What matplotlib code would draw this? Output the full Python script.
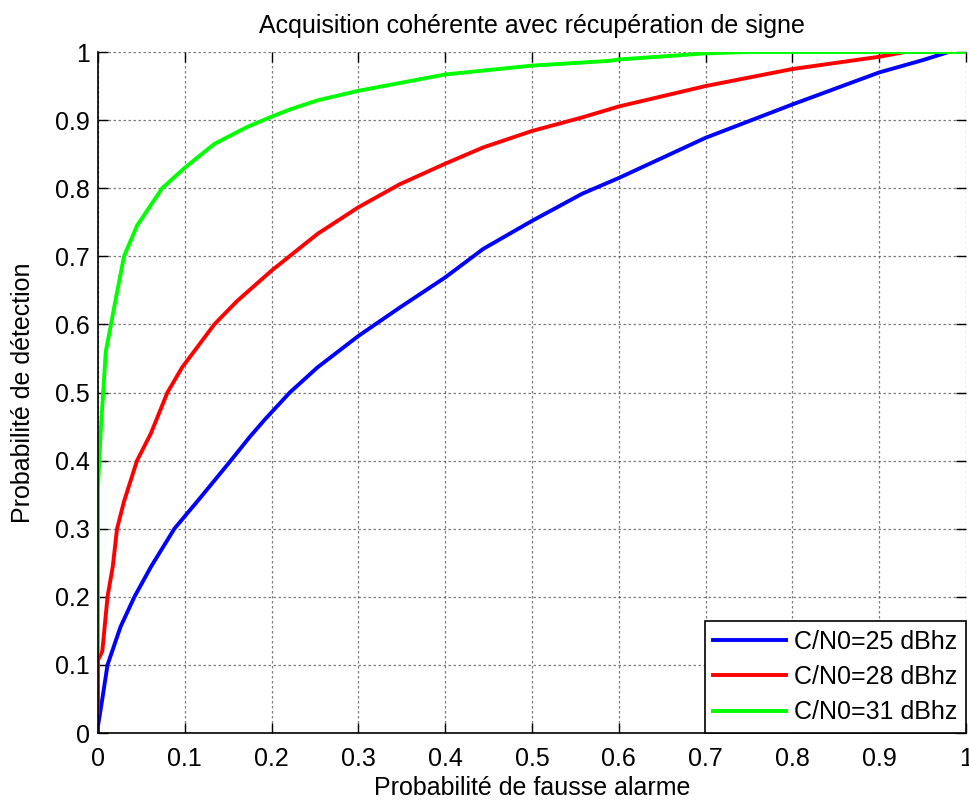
import matplotlib
matplotlib.use("Agg")
from matplotlib import pyplot as plt

plt.rcParams['font.family'] = ['Liberation Sans', 'DejaVu Sans']

# courbes ROC (Pfa, Pd)
pfa_25 = [0, 0, 0.005, 0.011, 0.026, 0.042, 0.061, 0.088, 0.115, 0.153, 0.175, 0.192,
          0.221, 0.253, 0.30, 0.348, 0.40, 0.444, 0.50, 0.558, 0.60, 0.70, 0.80,
          0.90, 0.95, 0.98, 1.0]
pd_25 = [0, 0.01, 0.05, 0.10, 0.156, 0.20, 0.244, 0.30, 0.341, 0.40, 0.435, 0.46,
         0.50, 0.537, 0.583, 0.625, 0.669, 0.711, 0.752, 0.792, 0.815, 0.874, 0.923,
         0.970, 0.988, 1.0, 1.0]

pfa_28 = [0, 0, 0.005, 0.011, 0.017, 0.022, 0.03, 0.045, 0.061, 0.08, 0.097, 0.134, 0.16,
          0.176, 0.2, 0.253, 0.3, 0.348, 0.4, 0.444, 0.5, 0.558, 0.6, 0.7, 0.8,
          0.9, 0.93, 1.0]
pd_28 = [0.03, 0.107, 0.12, 0.2, 0.244, 0.3, 0.34, 0.4, 0.44, 0.5, 0.537, 0.6, 0.634,
         0.652, 0.679, 0.733, 0.772, 0.806, 0.836, 0.860, 0.884, 0.904, 0.92, 0.95, 0.975,
         0.993, 1.0, 1.0]

pfa_31 = [0, 0, 0.003, 0.006, 0.009, 0.015, 0.02, 0.03, 0.045, 0.074, 0.1, 0.134, 0.172,
          0.2, 0.222, 0.253, 0.3, 0.4, 0.5, 0.589, 0.6, 0.7, 0.75, 1.0]
pd_31 = [0.12, 0.36, 0.44, 0.5, 0.56, 0.6, 0.634, 0.7, 0.745, 0.8, 0.83, 0.865, 0.89,
         0.905, 0.916, 0.929, 0.943, 0.967, 0.980, 0.987, 0.989, 0.998, 1.0, 1.0]

labels = ["C/N0=25 dBhz", "C/N0=28 dBhz", "C/N0=31 dBhz"]
ticks = [0, 0.1, 0.2, 0.3, 0.4, 0.5, 0.6, 0.7, 0.8, 0.9, 1]
tick_labels = ["0", "0.1", "0.2", "0.3", "0.4", "0.5", "0.6", "0.7", "0.8", "0.9", "1"]

fs = 18

fig = plt.figure(figsize=(9.69, 8.05), dpi=100)
ax = fig.add_axes([0.1011, 0.0894, 0.8958, 0.8460])

ax.plot(pfa_25, pd_25, color=(0, 0, 1), lw=2.8, label=labels[0])
ax.plot(pfa_28, pd_28, color=(1, 0, 0), lw=2.8, label=labels[1])
ax.plot(pfa_31, pd_31, color=(0, 1, 0), lw=2.8, label=labels[2])

ax.set_xlim(0, 1)
ax.set_ylim(0, 1)
ax.set_xticks(ticks)
ax.set_xticklabels(tick_labels)
ax.set_yticks(ticks)
ax.set_yticklabels(tick_labels)
ax.tick_params(direction='in', length=7, width=1, labelsize=fs, top=True, right=True)
ax.tick_params(axis='x', pad=10)
ax.tick_params(axis='y', pad=6)
ax.grid(True, color='#444444', linestyle=(0, (2, 2)), linewidth=0.9, alpha=0.7)
ax.set_axisbelow(True)

ax.spines['top'].set_visible(False)
ax.spines['right'].set_visible(False)
ax.spines['left'].set_linewidth(1.2)
ax.spines['bottom'].set_linewidth(1.2)

ax.set_title("Acquisition cohérente avec récupération de signe", fontsize=fs, pad=14)
ax.set_xlabel("Probabilité de fausse alarme", fontsize=fs, labelpad=4)
ax.set_ylabel("Probabilité de détection", fontsize=fs, labelpad=14)

leg = ax.legend(loc='lower right', fontsize=fs, borderaxespad=0, fancybox=False,
                handlelength=2.9, handletextpad=0.32, borderpad=0.35, labelspacing=0.45)
leg.get_frame().set_edgecolor('black')
leg.get_frame().set_linewidth(1.2)
leg.get_frame().set_alpha(1)

fig.savefig("out.png", dpi=100)
